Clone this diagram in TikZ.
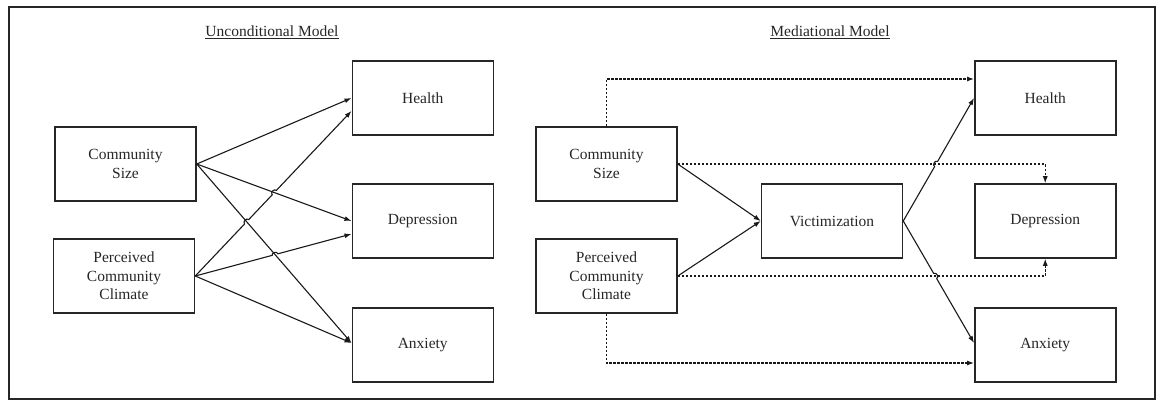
\documentclass[tikz,border=0pt]{standalone}
\usepackage{fontspec}
\setmainfont{Liberation Serif}
\usetikzlibrary{calc,arrows.meta}
\begin{document}
\begin{tikzpicture}[x=1pt,y=-1pt,
  box/.style={draw=black!85,line width=1.5pt,minimum width=141pt,minimum height=74pt,align=center,text=black!85,font=\fontsize{15.5}{18.5}\selectfont,inner sep=0pt},
  arr/.style={draw=black!90,line width=1.1pt,-{Latex[length=7pt,width=5pt]}},
  dsh/.style={arr,dash pattern=on 2.5pt off 1.5pt},
  hop/.style={bend left=90,looseness=1.3},
  ttl/.style={text=black!85,font=\fontsize{15.5}{18.5}\selectfont}]
\useasboundingbox (0,0) rectangle (1157,401);
\draw[line width=1.5pt,black!85] (9,7) rectangle (1155,399);

% ---------- Unconditional model ----------
\node[ttl] (t1) at (272,32) {\underline{Unconditional Model}};
\node[box] (lcs) at (125.5,164) {Community\\Size};
\node[box] (lcl) at (124,276) {Perceived\\Community\\Climate};
\node[box] (lh) at (422.75,98) {Health};
\node[box] (ld) at (422.75,221) {Depression};
\node[box] (la) at (422.75,345) {Anxiety};

\coordinate (ha) at ($(lh.west)+(0,13)$);
\coordinate (da) at ($(ld.west)+(0,13)$);
\coordinate (aa) at ($(la.west)+(0,-2)$);
\coordinate (s1) at (lcs.east);
\coordinate (s2) at (lcl.east);
\coordinate (dc) at (ld.west);

\draw[arr] (lcs.east) -- (lh.west);
\draw[arr] (lcs.east) -- (ld.west);
\draw[arr] (lcs.east) -- (aa);

\coordinate (x1) at (intersection of s2--ha and s1--aa);
\coordinate (x2) at (intersection of s2--ha and s1--dc);
\coordinate (x3) at (intersection of s2--da and s1--aa);

\draw[arr] (lcl.east) -- ($(x1)!3pt!(s2)$) to[hop] ($(x1)!3pt!(ha)$)
  -- ($(x2)!3pt!(s2)$) to[hop] ($(x2)!3pt!(ha)$) -- (ha);
\draw[arr] (lcl.east) -- ($(x3)!3pt!(s2)$) to[hop] ($(x3)!3pt!(da)$) -- (da);
\draw[arr] (lcl.east) -- (aa);

% ---------- Mediational model ----------
\node[ttl] (t2) at (830,32) {\underline{Mediational Model}};
\node[box] (rcs) at (606.5,164) {Community\\Size};
\node[box] (rcl) at (606.5,276) {Perceived\\Community\\Climate};
\node[box] (rv) at (832,221) {Victimization};
\node[box] (rh) at (1045.25,98) {Health};
\node[box] (rd) at (1045.25,221) {Depression};
\node[box] (ra) at (1045.25,345) {Anxiety};

\draw[arr] (rcs.east) -- (rv.west);
\draw[arr] (rcl.east) -- (rv.west);

\draw[dsh] (rcs.north) |- ($(rh.west)+(0,-19)$);
\draw[dsh] (rcs.east) -| (rd.north);
\draw[dsh] (rcl.east) -| (rd.south);
\draw[dsh] (rcl.south) |- ($(ra.west)+(0,18)$);

\coordinate (ve) at (rv.east);
\coordinate (rha) at (rh.west);
\coordinate (raa) at ($(ra.west)+(0,-2)$);
\coordinate (c1) at (rcs.east);
\coordinate (c2) at (rd.north |- rcs.east);
\coordinate (c3) at (rcl.east);
\coordinate (c4) at (rd.south |- rcl.east);
\coordinate (y1) at (intersection of ve--rha and c1--c2);
\coordinate (y2) at (intersection of ve--raa and c3--c4);

\draw[arr] (rv.east) -- ($(y1)!3pt!(ve)$) to[hop] ($(y1)!3pt!(rha)$) -- (rha);
\draw[arr] (rv.east) -- ($(y2)!3pt!(ve)$) to[hop] ($(y2)!3pt!(raa)$) -- (raa);
\end{tikzpicture}
\end{document}
